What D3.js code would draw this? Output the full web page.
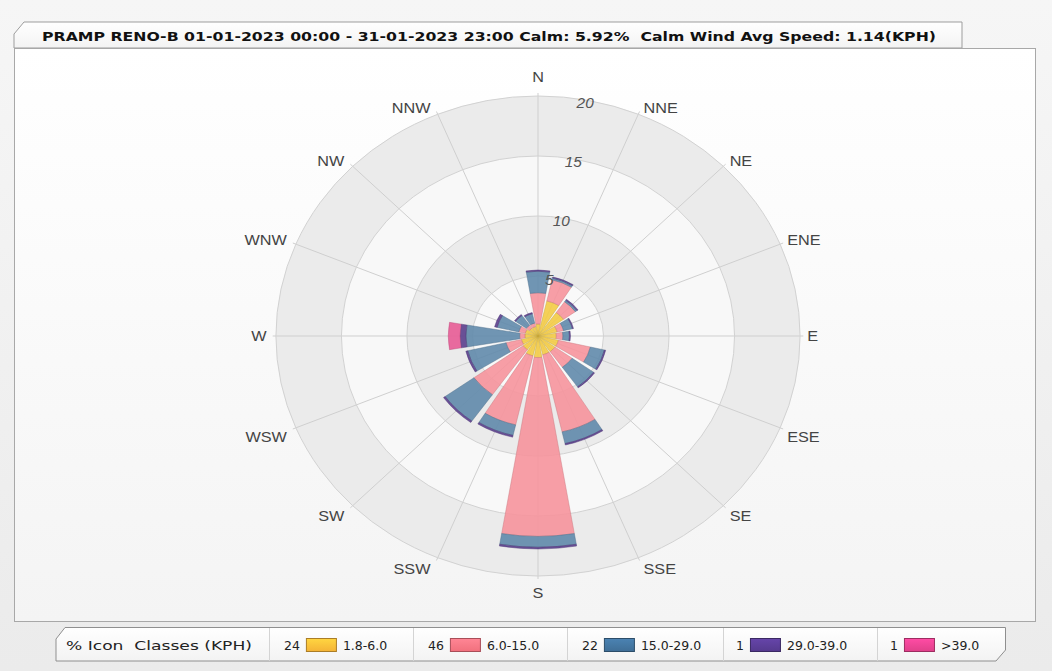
<!DOCTYPE html>
<html>
<head>
<meta charset="utf-8">
<script src="https://cdn.jsdelivr.net/npm/d3@7"></script>
<style>
  body { margin: 0; background: #eeeeee; }
  svg { display: block; }
  text { white-space: pre; }
</style>
</head>
<body>
<svg id="chart" width="1052" height="671"></svg>
<script>
// ---- data ----
const directions = ["N","NNE","NE","ENE","E","ESE","SE","SSE","S","SSW","SW","WSW","W","WNW","NW","NNW"];
const speedClasses = ["1.8-6.0", "6.0-15.0", "15.0-29.0", "29.0-39.0", ">39.0"];
const classShares = [24, 46, 22, 1, 1];
// frequency (%) per direction for each speed class (KPH)
const freq_1_8_6  = [1.0, 3.0, 2.4, 1.5, 1.4, 1.6, 1.6, 1.6, 1.8, 1.7, 1.4, 1.3, 1.0, 1.0, 0.8, 0.8];
const freq_6_15   = [2.6, 1.8, 1.1, 0.5, 0.5, 2.5, 1.6, 6.6, 14.9, 5.9, 4.6, 1.2, 0.4, 0.5, 0.3, 0.3];
const freq_15_29  = [1.8, 0.15, 0.15, 0.7, 0.5, 1.1, 2.0, 1.0, 0.9, 0.9, 2.7, 3.0, 4.1, 1.7, 1.0, 0.8];
const freq_29_39  = [0.1, 0.1, 0.1, 0.08, 0.08, 0.1, 0.1, 0.12, 0.15, 0.15, 0.15, 0.15, 0.45, 0.2, 0.1, 0.1];
const freq_39_up  = [0, 0, 0, 0, 0, 0, 0, 0, 0, 0, 0, 0, 0.9, 0, 0, 0];
const radialTicks = [5, 10, 15, 20];
const titleText = "PRAMP RENO-B 01-01-2023 00:00 - 31-01-2023 23:00 Calm: 5.92%  Calm Wind Avg Speed: 1.14(KPH)";
const legendTitle = "% Icon  Classes (KPH)";

// ---- styling ----
const barColors = ["#f3cb45", "#f6939c", "#6189ab", "#5b3f8d", "#e85c96"];
const swatchColors = ["#f4b336", "#f1707d", "#3f6e96", "#553a8e", "#e0408a"];
const svg = d3.select("#chart");
const W = 1052, H = 671;
const cx = 538, cy = 336, sx = 1.092;
const rMax = 20;
const r = d3.scaleLinear().domain([0, rMax]).range([0, 240]);
const step = 2 * Math.PI / directions.length;
const barWidth = step * 0.85;

const defs = svg.append("defs");
const pageGrad = defs.append("linearGradient").attr("id", "pageBg").attr("x1", 0).attr("y1", 0).attr("x2", 0).attr("y2", 1);
pageGrad.append("stop").attr("offset", "0%").attr("stop-color", "#f6f6f6");
pageGrad.append("stop").attr("offset", "100%").attr("stop-color", "#ebebeb");
const panelGrad = defs.append("linearGradient").attr("id", "panelBg").attr("x1", 0).attr("y1", 0).attr("x2", 0).attr("y2", 1);
panelGrad.append("stop").attr("offset", "0%").attr("stop-color", "#ffffff");
panelGrad.append("stop").attr("offset", "100%").attr("stop-color", "#f4f4f4");
const tabGrad = defs.append("linearGradient").attr("id", "tabBg").attr("x1", 0).attr("y1", 0).attr("x2", 0).attr("y2", 1);
tabGrad.append("stop").attr("offset", "0%").attr("stop-color", "#ffffff");
tabGrad.append("stop").attr("offset", "100%").attr("stop-color", "#f3f3f3");
swatchColors.forEach((c, i) => {
  const g = defs.append("linearGradient").attr("id", "sw" + i).attr("x1", 0).attr("y1", 0).attr("x2", 0).attr("y2", 1);
  g.append("stop").attr("offset", "0%").attr("stop-color", d3.color(c).brighter(0.5));
  g.append("stop").attr("offset", "100%").attr("stop-color", c);
});

svg.append("rect").attr("width", W).attr("height", H).attr("fill", "url(#pageBg)");

// title tab
svg.append("path")
  .attr("d", "M14,48 L14,34 L24,22 L962,22 L962,48 Z")
  .attr("fill", "url(#tabBg)").attr("stroke", "#9d9d9d");
// chart panel
svg.append("rect").attr("x", 14.5).attr("y", 48.5).attr("width", 1021).attr("height", 573)
  .attr("fill", "url(#panelBg)").attr("stroke", "#a8a8a8");
svg.append("text").attr("x", 42).attr("y", 41)
  .attr("font-family", "DejaVu Sans, sans-serif").attr("font-weight", "bold").attr("font-size", 13)
  .attr("fill", "#111").attr("textLength", 894).attr("lengthAdjust", "spacingAndGlyphs")
  .text(titleText);

// ---- polar grid ----
const polar = svg.append("g").attr("transform", `translate(${cx},${cy}) scale(${sx},1)`);
const bandFill = ["#f9f9f9", "#ebebeb", "#f8f8f8", "#ebebeb"];
radialTicks.slice().reverse().forEach((t, i) => {
  polar.append("circle").attr("r", r(t)).attr("fill", bandFill[radialTicks.length - 1 - i]);
});
polar.selectAll("line.spoke").data(directions).join("line")
  .attr("class", "spoke")
  .attr("x1", 0).attr("y1", 0)
  .attr("x2", (d, i) => Math.sin(i * step) * r(rMax + 0.25))
  .attr("y2", (d, i) => -Math.cos(i * step) * r(rMax + 0.25))
  .attr("stroke", "#cfcfcf").attr("stroke-width", 1).attr("vector-effect", "non-scaling-stroke");
polar.selectAll("circle.ring").data(radialTicks).join("circle")
  .attr("class", "ring").attr("r", d => r(d)).attr("fill", "none")
  .attr("stroke", "#d2d2d2").attr("stroke-width", 1).attr("vector-effect", "non-scaling-stroke");

// ---- stacked bars ----
const rows = directions.map((d, i) => ({
  dir: d,
  c0: freq_1_8_6[i], c1: freq_6_15[i], c2: freq_15_29[i], c3: freq_29_39[i], c4: freq_39_up[i]
}));
const keys = ["c0", "c1", "c2", "c3", "c4"];
const stacked = d3.stack().keys(keys)(rows);
const arc = d3.arc();
stacked.forEach((layer, k) => {
  polar.append("g").selectAll("path").data(layer.map((s, i) => ({ s, i })).filter(d => d.s[1] > d.s[0])).join("path")
    .attr("d", d => arc({
      innerRadius: r(d.s[0]), outerRadius: r(d.s[1]),
      startAngle: d.i * step - barWidth / 2, endAngle: d.i * step + barWidth / 2
    }))
    .attr("fill", barColors[k]).attr("fill-opacity", 0.9)
    .attr("stroke", d3.color(barColors[k]).darker(0.6)).attr("stroke-opacity", 0.55)
    .attr("stroke-width", 0.8).attr("vector-effect", "non-scaling-stroke");
});

// ---- radial tick labels ----
const tickAngle = 10.5 * Math.PI / 180;
svg.selectAll("text.rtick").data(radialTicks).join("text")
  .attr("class", "rtick")
  .attr("transform", d => `translate(${cx + sx * Math.sin(tickAngle) * r(d - 0.25)},${cy - Math.cos(tickAngle) * r(d - 0.25)}) scale(1.1,1)`)
  .attr("text-anchor", "middle").attr("dominant-baseline", "central")
  .attr("font-family", "Liberation Sans, Arial, sans-serif").attr("font-style", "italic")
  .attr("font-size", 14).attr("fill", "#555")
  .text(d => d);

// ---- direction labels ----
svg.selectAll("text.dir").data(directions).join("text")
  .attr("class", "dir")
  .attr("transform", (d, i) => {
    const a = i * step, s = Math.sin(a), c = Math.cos(a);
    let x = cx + sx * s * r(rMax + 0.25), y = cy - c * r(rMax + 0.25);
    if (Math.abs(s) < 1e-6) { y += c > 0 ? -16 : 14; }
    else {
      x += s > 0 ? 4 : -6;
      y += c > 1e-6 ? -3.5 : (c < -1e-6 ? 8 : 0);
    }
    return `translate(${x},${y}) scale(1.12,1)`;
  })
  .attr("text-anchor", (d, i) => {
    const s = Math.sin(i * step);
    return Math.abs(s) < 1e-6 ? "middle" : (s > 0 ? "start" : "end");
  })
  .attr("dominant-baseline", "central")
  .attr("font-family", "Liberation Sans, Arial, sans-serif")
  .attr("font-size", 14.5).attr("fill", "#444")
  .text(d => d);

// ---- legend ----
const lg = svg.append("g");
lg.append("path")
  .attr("d", "M56,661 L56,639 L65,627.5 L1005.5,627.5 L1005.5,650 L996,661 Z")
  .attr("fill", "url(#tabBg)").attr("stroke", "#8f8f8f");
lg.append("text").attr("x", 66).attr("y", 649.5)
  .attr("font-family", "DejaVu Sans, sans-serif").attr("font-size", 12.5).attr("fill", "#222")
  .attr("textLength", 186).attr("lengthAdjust", "spacingAndGlyphs")
  .text(legendTitle);
const cellStart = [269, 413, 567, 723, 877];
speedClasses.forEach((cls, i) => {
  const x0 = cellStart[i];
  lg.append("line").attr("x1", x0 + 0.5).attr("x2", x0 + 0.5).attr("y1", 628).attr("y2", 661)
    .attr("stroke", "#d4d4d4");
  const num = lg.append("text").attr("x", x0 + (classShares[i] >= 10 ? 15 : 13)).attr("y", 649.5)
    .attr("font-family", "DejaVu Sans, sans-serif").attr("font-size", 12.5).attr("fill", "#222")
    .text(classShares[i]);
  const nx = x0 + (classShares[i] >= 10 ? 15 : 13) + num.node().getComputedTextLength() + 6;
  lg.append("rect").attr("x", nx + 0.5).attr("y", 638.5).attr("width", 30).attr("height", 13)
    .attr("fill", `url(#sw${i})`).attr("stroke", d3.color(swatchColors[i]).darker(1));
  lg.append("text").attr("x", nx + 37).attr("y", 649.5)
    .attr("font-family", "DejaVu Sans, sans-serif").attr("font-size", 12.5).attr("fill", "#222")
    .text(cls);
});
</script>
</body>
</html>
